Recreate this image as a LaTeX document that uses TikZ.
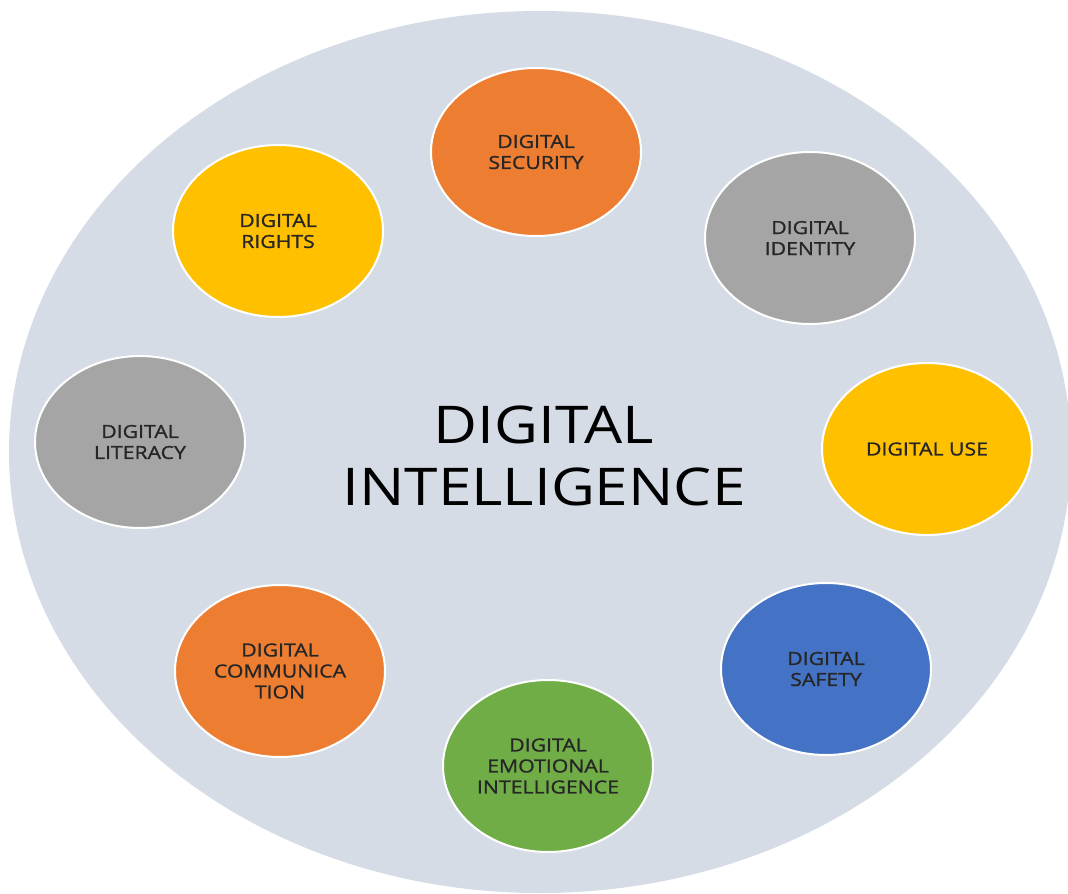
\documentclass[tikz,border=0pt]{standalone}
\usepackage{fontspec}
\setmainfont{Open Sans}
\newfontfamily\topicfont[FakeStretch=1.18,FakeBold=1.2]{Open Sans}
\newfontfamily\centerfont[FakeStretch=1.16]{Open Sans}
\usetikzlibrary{shapes.geometric}
\definecolor{bgc}{HTML}{D6DCE5}
\definecolor{corange}{HTML}{ED7D31}
\definecolor{cgray}{HTML}{A5A5A5}
\definecolor{cyellow}{HTML}{FFC000}
\definecolor{cblue}{HTML}{4472C4}
\definecolor{cgreen}{HTML}{70AD47}
\definecolor{txt}{HTML}{262626}
\tikzset{
  topic/.style={ellipse, draw=white, line width=2pt, minimum width=210pt, minimum height=172pt,
    inner sep=0pt, align=center, text=txt, font=\topicfont\fontsize{18}{21}\selectfont},
}
\begin{document}
\begin{tikzpicture}[x=1pt,y=-1pt]
\useasboundingbox (0,0) rectangle (1068,894);
\fill[bgc] (540,452) ellipse [x radius=531, y radius=441];
\node[text=black, align=center, font=\centerfont\fontsize{52}{62}\selectfont] (center) at (544,456) {DIGITAL\\INTELLIGENCE};
\node[topic, fill=corange, minimum height=168pt] (security) at (536,152) {DIGITAL\\SECURITY};
\node[topic, fill=cyellow] (rights) at (278,231) {DIGITAL\\RIGHTS};
\node[topic, fill=cgray] (identity) at (810,238) {DIGITAL\\IDENTITY};
\node[topic, fill=cgray] (literacy) at (140,442) {DIGITAL\\LITERACY};
\node[topic, fill=cyellow] (use) at (927,449) {DIGITAL USE};
\node[topic, fill=corange] (comm) at (280,671) {DIGITAL\\COMMUNICA\\TION};
\node[topic, fill=cblue] (safety) at (826,669) {DIGITAL\\SAFETY};
\node[topic, fill=cgreen] (emo) at (548,766) {DIGITAL\\EMOTIONAL\\INTELLIGENCE};
\end{tikzpicture}
\end{document}
